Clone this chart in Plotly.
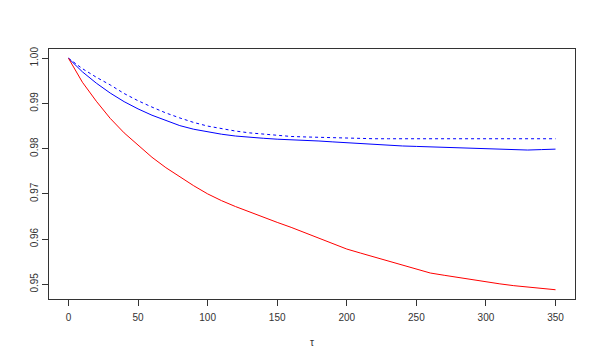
import plotly.graph_objects as go

tau = [0, 10, 20, 30, 40, 50, 60, 70, 80, 90, 100, 110, 120, 130, 140, 150, 160, 170,
       180, 190, 200, 210, 220, 230, 240, 250, 260, 270, 280, 290, 300, 310, 320, 330, 340, 350]

red_vals = [1.0000, 0.9947, 0.9905, 0.9867, 0.9835, 0.9807, 0.9781, 0.9758, 0.9737, 0.9718,
            0.9700, 0.9685, 0.9672, 0.9660, 0.9648, 0.9637, 0.9626, 0.9614, 0.9601, 0.9589,
            0.9578, 0.9569, 0.9560, 0.9551, 0.9542, 0.9534, 0.9525, 0.9520, 0.9515, 0.9510,
            0.9505, 0.9501, 0.9497, 0.9494, 0.9491, 0.9488]

blue_vals = [1.0000, 0.9970, 0.9945, 0.9923, 0.9904, 0.9888, 0.9874, 0.9862, 0.9851, 0.9843,
             0.9837, 0.9832, 0.9828, 0.9825, 0.9823, 0.9821, 0.9820, 0.9819, 0.9817, 0.9815,
             0.9813, 0.9811, 0.9809, 0.9808, 0.9806, 0.9805, 0.9804, 0.9804, 0.9803, 0.9802,
             0.9801, 0.9800, 0.9798, 0.9797, 0.9798, 0.9799]

dash_vals = [1.0000, 0.9977, 0.9958, 0.9941, 0.9922, 0.9906, 0.9892, 0.9879, 0.9868, 0.9858,
             0.9850, 0.9844, 0.9839, 0.9835, 0.9832, 0.9829, 0.9827, 0.9826, 0.9825, 0.9824,
             0.9823, 0.9823, 0.9822, 0.9822, 0.9822, 0.9822, 0.9822, 0.9822, 0.9822, 0.9822,
             0.9822, 0.9822, 0.9822, 0.9822, 0.9822, 0.9822]

x_ticks = [0, 50, 100, 150, 200, 250, 300, 350]
y_ticks = [0.95, 0.96, 0.97, 0.98, 0.99, 1.00]
y_tick_labels = ["0.95", "0.96", "0.97", "0.98", "0.99", "1.00"]

FONT = "Liberation Sans, Arial, sans-serif"
AXC = "#333333"

fig = go.Figure()
fig.add_trace(go.Scatter(x=tau, y=dash_vals, mode="lines",
                         line=dict(color="#0000FF", width=1, dash="3px,3px")))
fig.add_trace(go.Scatter(x=tau, y=blue_vals, mode="lines",
                         line=dict(color="#0000FF", width=1)))
fig.add_trace(go.Scatter(x=tau, y=red_vals, mode="lines",
                         line=dict(color="#FF0000", width=1)))

xmin, xmax = min(tau), max(tau)
xpad = 0.04 * (xmax - xmin)
allv = red_vals + blue_vals + dash_vals
ymin, ymax = min(allv), max(allv)
ypad = 0.04 * (ymax - ymin)

# The page body has an 8px default margin; the figure is sized so that the
# plot frame lands at x 49..575, y 49..299 of the 600x360 window.
fig.update_layout(
    template="none",
    width=584, height=344,
    margin=dict(l=41, r=17, t=41, b=53, pad=0),
    paper_bgcolor="white", plot_bgcolor="white",
    showlegend=False,
    font=dict(family=FONT, size=10, color=AXC),
    xaxis=dict(range=[xmin - xpad, xmax + xpad], tickvals=x_ticks, automargin=False,
               ticks="outside", ticklen=6, tickcolor=AXC, tickwidth=1,
               ticklabelstandoff=3,
               showline=True, mirror=True, linecolor=AXC, linewidth=1,
               showgrid=False, zeroline=False,
               tickfont=dict(family=FONT, size=10, color=AXC)),
    yaxis=dict(range=[ymin - ypad, ymax + ypad], tickvals=y_ticks, ticktext=y_tick_labels,
               automargin=False,
               ticks="outside", ticklen=6, tickcolor=AXC, tickwidth=1, tickangle=-90,
               showline=True, mirror=True, linecolor=AXC, linewidth=1,
               showgrid=False, zeroline=False,
               tickfont=dict(family=FONT, size=10, color=AXC)),
    annotations=[dict(text="τ", xref="paper", yref="paper", x=0.5, y=-0.174,
                      xanchor="center", yanchor="middle", showarrow=False,
                      font=dict(family=FONT, size=10, color=AXC))],
)

fig.write_html("out.html")
